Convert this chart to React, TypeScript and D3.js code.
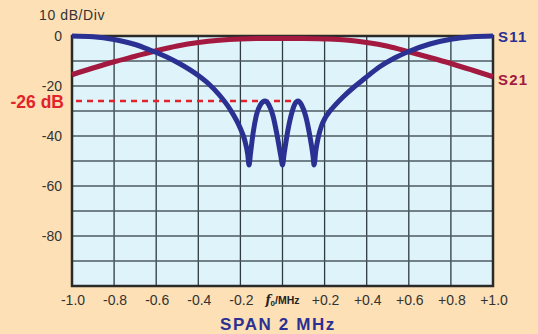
import { useEffect, useRef } from 'react';
import * as d3 from 'd3';

const W = 538;
const H = 334;

// offset from f0 in MHz
const S11_X = [
  -1.0, -0.9, -0.8, -0.7, -0.63, -0.55, -0.49, -0.4, -0.35, -0.3, -0.25, -0.2,
  -0.18, -0.165, -0.159, -0.152, -0.14, -0.125, -0.105, -0.083, -0.065, -0.045,
  -0.025, -0.008, 0, 0.008, 0.025, 0.045, 0.06, 0.074, 0.09, 0.11, 0.13, 0.145,
  0.15, 0.158, 0.17, 0.185, 0.2, 0.215, 0.24, 0.29, 0.34, 0.39, 0.46, 0.53, 0.6, 0.7, 0.8, 0.9, 1.0
];
const S11_DB = [
  0, -0.3, -1.4, -3.4, -5.6, -8.4, -11, -15.8, -19.2, -23.6, -29.2, -37,
  -41.5, -47.5, -51.6, -47, -39, -32, -27.5, -26, -27.5, -32,
  -40, -48, -51.6, -47, -38, -30.5, -27, -26, -27.5, -32, -40, -48,
  -51.6, -46, -40.5, -36, -33.2, -31.2, -28.6, -24.2, -20.4, -17, -12.4, -8.9, -6.2, -3.2, -1.3, -0.3, 0
];

const S21_X = [-1.0, -0.9, -0.8, -0.7, -0.6, -0.5, -0.4, -0.3, -0.2, -0.1, 0, 0.1, 0.2, 0.3, 0.4, 0.5, 0.6, 0.7, 0.8, 0.9, 1.0];
const S21_DB = [-15.5, -12.8, -10.3, -8.1, -5.9, -4.0, -2.6, -1.7, -1.2, -1.0, -1.0, -1.0, -1.2, -1.6, -2.6, -4.1, -6.3, -8.6, -11.0, -13.6, -16.3];

const X_TICKS = [-1.0, -0.8, -0.6, -0.4, -0.2, 0, 0.2, 0.4, 0.6, 0.8, 1.0];
const X_TICK_LABELS = ['-1.0', '-0.8', '-0.6', '-0.4', '-0.2', '', '+0.2', '+0.4', '+0.6', '+0.8', '+1.0'];
const Y_GRID = [0, -10, -20, -30, -40, -50, -60, -70, -80, -90, -100];
const Y_TICKS = [0, -20, -40, -60, -80];
const MARKER_DB = -26;
const MARKER_END = 0.074;

const BLUE = '#2b3192';
const MAROON = '#a3193f';
const RED = '#e3232b';
const TEXT = '#333333';

export default function App() {
  const svgRef = useRef<SVGSVGElement>(null);

  useEffect(() => {
    if (!svgRef.current) return;
    const svg = d3.select(svgRef.current);
    svg.selectAll('*').remove();

    const left = 72, right = 493, top = 36, bottom = 286;
    const x = d3.scaleLinear().domain([-1, 1]).range([left, right]);
    const y = d3.scaleLinear().domain([0, -100]).range([top, bottom]);

    // fondo
    svg.append('rect').attr('width', W).attr('height', H).attr('fill', '#fde0b6');
    svg.append('rect')
      .attr('x', left).attr('y', top)
      .attr('width', right - left).attr('height', bottom - top)
      .attr('fill', '#dff3fb');

    // rejilla
    const grid = svg.append('g').attr('stroke', '#2e3b40').attr('stroke-width', 1.3);
    grid.selectAll('.vx')
      .data(X_TICKS.slice(1, -1))
      .join('line')
      .attr('x1', d => x(d)).attr('x2', d => x(d))
      .attr('y1', top).attr('y2', bottom);
    grid.selectAll('.hy')
      .data(Y_GRID.slice(1, -1))
      .join('line')
      .attr('x1', left).attr('x2', right)
      .attr('y1', d => y(d)).attr('y2', d => y(d))
      .attr('stroke', '#4d5b60');

    svg.append('rect')
      .attr('x', left).attr('y', top)
      .attr('width', right - left).attr('height', bottom - top)
      .attr('fill', 'none')
      .attr('stroke', '#2a2a2a')
      .attr('stroke-width', 2.5);

    // marcador -26 dB
    svg.append('line')
      .attr('x1', x(-1) + 4).attr('x2', x(MARKER_END))
      .attr('y1', y(MARKER_DB)).attr('y2', y(MARKER_DB))
      .attr('stroke', RED)
      .attr('stroke-width', 2.6)
      .attr('stroke-dasharray', '6,5');

    const line = d3.line<[number, number]>()
      .x(d => x(d[0]))
      .y(d => y(d[1]))
      .curve(d3.curveMonotoneX);

    svg.append('path')
      .attr('d', line(S21_X.map((v, i) => [v, S21_DB[i]]))!)
      .attr('fill', 'none')
      .attr('stroke', MAROON)
      .attr('stroke-width', 5);

    svg.append('path')
      .attr('d', line(S11_X.map((v, i) => [v, S11_DB[i]]))!)
      .attr('fill', 'none')
      .attr('stroke', BLUE)
      .attr('stroke-width', 5)
      .attr('stroke-linejoin', 'round');

    const font = "'Liberation Sans', Arial, sans-serif";

    svg.append('text')
      .attr('x', 39).attr('y', 20)
      .attr('font-family', font).attr('font-size', 14)
      .attr('letter-spacing', 0.6)
      .attr('fill', TEXT)
      .text('10 dB/Div');

    svg.selectAll('.ylab')
      .data(Y_TICKS)
      .join('text')
      .attr('x', 62).attr('y', d => y(d) + 5)
      .attr('text-anchor', 'end')
      .attr('font-family', font).attr('font-size', 14)
      .attr('fill', TEXT)
      .text(d => String(d));

    svg.append('text')
      .attr('x', 64).attr('y', y(MARKER_DB) + 7)
      .attr('text-anchor', 'end')
      .attr('font-family', font).attr('font-size', 17.5)
      .attr('font-weight', 'bold')
      .attr('fill', RED)
      .text('-26 dB');

    svg.selectAll('.xlab')
      .data(X_TICKS)
      .join('text')
      .attr('x', d => x(d) + 1).attr('y', 305)
      .attr('text-anchor', 'middle')
      .attr('font-family', font).attr('font-size', 14)
      .attr('fill', TEXT)
      .text((d, i) => X_TICK_LABELS[i]);

    const f0 = svg.append('text')
      .attr('x', x(0)).attr('y', 304)
      .attr('text-anchor', 'middle')
      .attr('fill', '#222');
    f0.append('tspan')
      .attr('font-family', "'DejaVu Serif', serif")
      .attr('font-style', 'italic').attr('font-weight', 'bold')
      .attr('font-size', 12)
      .text('f');
    f0.append('tspan')
      .attr('font-family', font).attr('font-weight', 'bold')
      .attr('font-size', 8).attr('dy', 2)
      .text('0');
    f0.append('tspan')
      .attr('font-family', font).attr('font-weight', 'bold')
      .attr('font-size', 10.5).attr('dy', -2)
      .text('/MHz');

    svg.append('text')
      .attr('x', 278).attr('y', 330)
      .attr('text-anchor', 'middle')
      .attr('font-family', font).attr('font-size', 17)
      .attr('font-weight', 'bold')
      .attr('letter-spacing', 1.6)
      .attr('fill', BLUE)
      .text('SPAN 2 MHz');

    svg.append('text')
      .attr('x', 498).attr('y', 42)
      .attr('font-family', font).attr('font-size', 15)
      .attr('font-weight', 'bold')
      .attr('letter-spacing', 1.2)
      .attr('fill', BLUE)
      .text('S11');

    svg.append('text')
      .attr('x', 498).attr('y', 85)
      .attr('font-family', font).attr('font-size', 15)
      .attr('font-weight', 'bold')
      .attr('letter-spacing', 1.2)
      .attr('fill', MAROON)
      .text('S21');
  }, []);

  return (
    <div style={{ position: 'fixed', left: 0, top: 0 }}>
      <svg ref={svgRef} width={W} height={H} style={{ display: 'block' }} />
    </div>
  );
}
